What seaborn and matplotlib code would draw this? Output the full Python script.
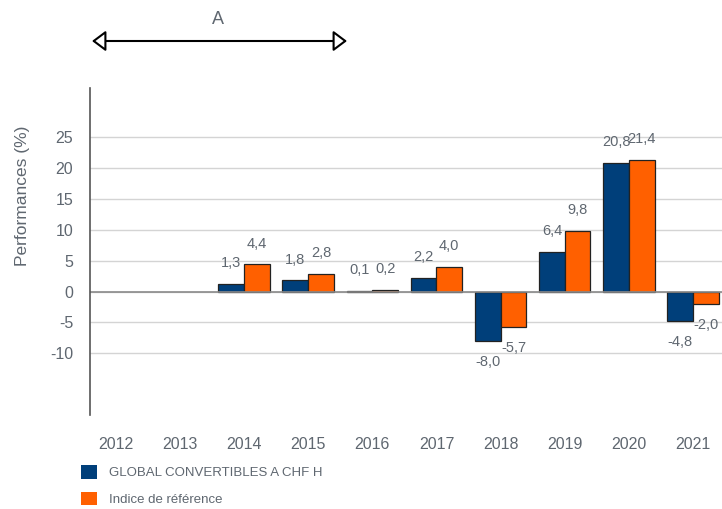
import numpy as np
import pandas as pd
import matplotlib
matplotlib.use("Agg")
import matplotlib.pyplot as plt
import seaborn as sns
from matplotlib.patches import Patch

years = ['2012', '2013', '2014', '2015', '2016', '2017', '2018', '2019', '2020', '2021']
fund = [np.nan, np.nan, 1.3, 1.8, 0.1, 2.2, -8.0, 6.4, 20.8, -4.8]
bench = [np.nan, np.nan, 4.4, 2.8, 0.2, 4.0, -5.7, 9.8, 21.4, -2.0]
series_names = ['GLOBAL CONVERTIBLES A CHF H', 'Indice de référence']
colors = ['#003f7a', '#ff6000']
yticks = [-10, -5, 0, 5, 10, 15, 20, 25]

df = pd.DataFrame({
    'year': years * 2,
    'perf': fund + bench,
    'serie': [series_names[0]] * len(years) + [series_names[1]] * len(years),
})

sns.set_style('white')
plt.rcParams['font.family'] = ['Liberation Sans', 'DejaVu Sans']
grey = '#5f6770'

fig = plt.figure(figsize=(7.22, 5.09), dpi=100)
ax = fig.add_axes([90 / 722, 1 - 415 / 509, 1 - 90 / 722, (415 - 88) / 509])

sns.barplot(data=df, x='year', y='perf', hue='serie', order=years,
            hue_order=series_names, palette=colors, width=0.8,
            edgecolor='#222222', linewidth=0.9, saturation=1, ax=ax, legend=False)

# value labels, comma decimals
for cont in ax.containers:
    labs = ['' if np.isnan(v) else f'{v:.1f}'.replace('.', ',') for v in cont.datavalues]
    ax.bar_label(cont, labels=labs, padding=10, fontsize=10.5, color=grey)

ax.set_ylim(-20, 33)
ax.set_xlim(-0.4, 9.45)
ax.set_yticks(yticks)
ax.set_yticklabels([str(t) for t in yticks])
ax.yaxis.grid(True, color='#d4d4d4', lw=1)
ax.set_axisbelow(True)
ax.axhline(0, color='#8a8a8a', lw=1.2, zorder=1.5)
for s in ['top', 'right', 'bottom']:
    ax.spines[s].set_visible(False)
ax.spines['left'].set_color('#555555')
ax.spines['left'].set_linewidth(1.2)
ax.tick_params(axis='x', length=0, pad=16, labelsize=11.5, labelcolor=grey)
ax.tick_params(axis='y', length=0, pad=12, labelsize=11.5, labelcolor=grey)
ax.set_xlabel('')
ax.set_ylabel('Performances (%)', fontsize=12.5, color=grey)
ax.yaxis.set_label_coords(-0.095, 0.67)

handles = [Patch(facecolor=c, edgecolor='none') for c in colors]
fig.legend(handles, series_names, loc='upper left', bbox_to_anchor=(81 / 722, 1 - 465 / 509),
           frameon=False, fontsize=9.5, handlelength=1.2, handleheight=1.2,
           labelspacing=0.95, handletextpad=0.9, borderpad=0, borderaxespad=0,
           labelcolor=grey)

# period arrow "A"
ax.annotate('', xy=(347 / 722, 1 - 41 / 509), xytext=(92 / 722, 1 - 41 / 509),
            xycoords='figure fraction', textcoords='figure fraction',
            arrowprops=dict(arrowstyle='<|-|>,head_length=0.6,head_width=0.45',
                            fc='white', ec='black', lw=1.5, shrinkA=0, shrinkB=0,
                            mutation_scale=14))
fig.text(218 / 722, 1 - 20 / 509, 'A', ha='center', va='center', fontsize=13, color=grey)

fig.savefig('out.png', dpi=100)
